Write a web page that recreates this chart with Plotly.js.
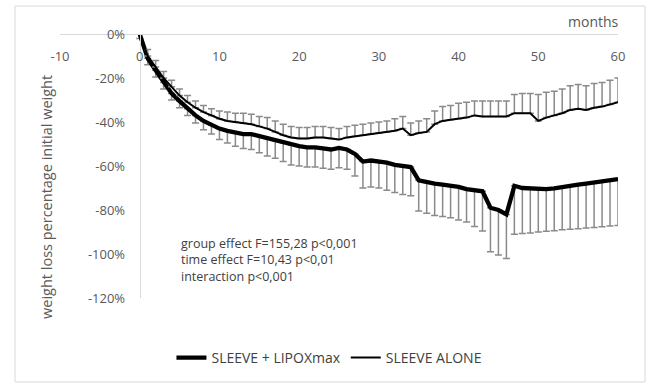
<!DOCTYPE html>
<html>
<head>
<meta charset="utf-8">
<script src="https://cdn.plot.ly/plotly-3.0.1.min.js"></script>
<style>
html,body{margin:0;padding:0;background:#fff;}
#chart{width:650px;height:392px;}
</style>
</head>
<body>
<div id="chart"></div>
<script>
// ---- data ----
var months = [0,1,2,3,4,5,6,7,8,9,10,11,12,13,14,15,16,17,18,19,20,21,22,23,24,25,26,27,28,29,30,31,32,33,34,35,36,37,38,39,40,41,42,43,44,45,46,47,48,49,50,51,52,53,54,55,56,57,58,59,60];

var lipoxValues = [0,-11,-16.5,-22,-27,-30.5,-34,-37,-39.5,-41.5,-43,-44,-45,-45.5,-45.5,-46.5,-47.5,-48.5,-49.5,-50.5,-51,-51.5,-51.5,-52,-52.5,-51.8,-52.5,-54.5,-58,-57.5,-58,-58.5,-59.5,-60,-60.5,-66.5,-67.5,-68,-68.5,-69,-69.5,-70.5,-71,-71.5,-79,-80,-82,-69,-70,-70.3,-70.5,-70.5,-70.2,-69.5,-69,-68.5,-68,-67.5,-67,-66.5,-66];
var lipoxErrMinus = [2,3,3,3,3,3,3,3.5,4,4,5,5.5,6,6.5,7,7.5,8,8,8.5,9,9,9,9,9,9,9,9,10,12,12,12,12.5,12.5,13,13,14,14,14.5,14.5,14.5,15,15,16.5,18,20,20.5,20,22,20.7,20.1,19.5,19.2,19.2,19.5,19.8,20,20.2,20.4,20.6,20.8,21];

var aloneValues = [0,-10,-15,-20,-24,-28,-31,-33.5,-35.5,-37,-38.5,-39.5,-40,-40.5,-41,-42,-43,-44.5,-46,-47,-47.5,-47.5,-47,-47,-47.5,-48,-47,-46.5,-46,-45.5,-45,-44.5,-44,-43,-46,-45,-44.5,-41,-39.5,-39,-38.5,-38,-37,-37.5,-37.5,-37.5,-37.5,-36,-36,-36,-39.5,-38,-37,-36,-34.5,-34,-34.5,-33.5,-33,-32,-31];
var aloneErrPlus = [2,3,3,3,3,3,3,3,3,3,3.5,4,4,4.5,4.5,4.5,5,5,5,5,5,5,5,5,5,5,5,5,5,5,5,5,5.5,5.5,5.5,5.5,6,6,6.5,6.5,7,7,6.5,7,7,7,7,8.5,9,9,12,11.5,11,11,11,11,11,11,11,11,11];

var seriesNames = ["SLEEVE + LIPOXmax", "SLEEVE ALONE"];
var xTickVals = [-10,0,10,20,30,40,50,60];
var xTickText = ["-10","0","10","20","30","40","50","60"];
var yTickVals = [0,-20,-40,-60,-80,-100,-120];
var yTickText = ["0%","-20%","-40%","-60%","-80%","-100%","-120%"];
var yTitle = "weight loss percentage initial weight";
var xTitle = "months";
var statsLines = ["group effect F=155,28 p<0,001","time effect F=10,43 p<0,01","interaction p<0,001"];

function zeros(n){var a=[];for(var i=0;i<n;i++)a.push(0);return a;}

var traces = [
  {
    x: months, y: lipoxValues, name: seriesNames[0], type: 'scatter', mode: 'lines',
    line: {color: '#000000', width: 4.3},
    error_y: {type:'data', symmetric:false, array: zeros(months.length), arrayminus: lipoxErrMinus,
              color:'#8a8a8a', thickness:1.5, width:3.5}
  },
  {
    x: months, y: aloneValues, name: seriesNames[1], type: 'scatter', mode: 'lines',
    line: {color: '#000000', width: 2},
    error_y: {type:'data', symmetric:false, array: aloneErrPlus, arrayminus: zeros(months.length),
              color:'#8a8a8a', thickness:1.5, width:3.5}
  }
];

var layout = {
  width: 650, height: 392,
  margin: {l:60, r:32, t:34, b:94},
  paper_bgcolor: '#ffffff', plot_bgcolor: '#ffffff',
  font: {family: '"Open Sans", "Segoe UI", sans-serif', color: '#595959', size: 13},
  showlegend: true,
  legend: {orientation:'h', x:0.482, xanchor:'center', y:-0.227, yanchor:'middle',
           font:{size:14, color:'#404040'}, bgcolor:'rgba(0,0,0,0)'},
  xaxis: {
    range: [-10, 60], side: 'bottom', anchor: 'free', position: 1,
    showline: true, linecolor: '#d9d9d9', linewidth: 1,
    showgrid: false, zeroline: false, ticks: '',
    tickmode: 'array', tickvals: xTickVals, ticktext: xTickText,
    ticklabelstandoff: 10,
    tickfont: {size: 13, color: '#595959'}
  },
  yaxis: {
    range: [-120, 0], anchor: 'free', position: 1/7,
    showline: true, linecolor: '#d9d9d9', linewidth: 1,
    showgrid: false, zeroline: false, ticks: '',
    tickmode: 'array', tickvals: yTickVals, ticktext: yTickText,
    ticklabelstandoff: 12,
    tickfont: {size: 13, color: '#595959'}
  },
  shapes: [
    {type:'rect', xref:'paper', yref:'paper', x0:-0.0806, x1:1.0484, y0:-0.318, y1:1.106,
     line:{color:'#d9d9d9', width:1}, fillcolor:'rgba(0,0,0,0)', layer:'below'}
  ],
  annotations: [
    {text: yTitle, xref:'paper', yref:'paper', x:-0.0233, y:0.3826, textangle:-90,
     showarrow:false, xanchor:'center', yanchor:'middle', font:{size:14.5, color:'#595959'}},
    {text: xTitle, xref:'paper', yref:'paper', x:1, y:1, xanchor:'right', yanchor:'bottom', yshift:1, xshift:3,
     showarrow:false, font:{size:14, color:'#595959'}},
    {text: statsLines.join('<br>'), xref:'paper', yref:'paper', x:0.2133, y:0.2386, xanchor:'left', yanchor:'top',
     align:'left', showarrow:false, yshift:2, font:{size:12.5, color:'#404040'}}
  ]
};

Plotly.newPlot('chart', traces, layout, {displayModeBar:false, staticPlot:true});
</script>
</body>
</html>
